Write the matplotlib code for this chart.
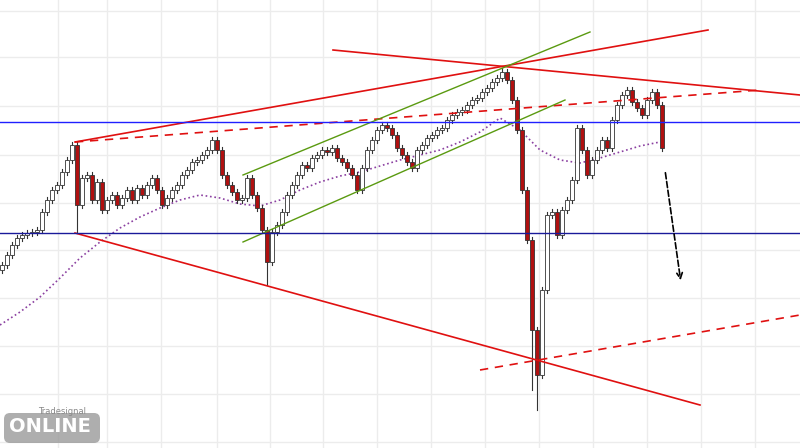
import numpy as np
import matplotlib.pyplot as plt
from matplotlib.patches import FancyBboxPatch

# candle closes (pixel rows, converted below), one candle every 5 px
close_px = [265, 255, 245, 238, 235, 233, 232, 230, 212, 200, 190, 185, 172, 160, 145,
            205, 178, 175, 200, 182, 210, 200, 195, 205, 198, 190, 200, 188, 195, 185,
            178, 190, 205, 198, 190, 185, 175, 170, 162, 160, 155, 150, 140, 150, 175,
            185, 192, 200, 198, 178, 195, 208, 230, 262, 232, 225, 212, 195, 185, 175,
            165, 168, 158, 155, 150, 152, 148, 158, 162, 168, 175, 190, 168, 150, 140,
            130, 125, 128, 135, 148, 155, 162, 168, 150, 145, 138, 135, 130, 128, 120,
            115, 112, 110, 105, 100, 98, 92, 88, 82, 78, 72, 80, 100, 130, 190,
            240, 330, 375, 290, 215, 212, 235, 210, 200, 180, 128, 150, 175, 160, 150,
            140, 148, 120, 105, 95, 90, 102, 108, 115, 100, 92, 105, 148]
open_first_px = 270
extreme_lows = {53: 285, 106: 390, 107: 410, 15: 233}
extreme_highs = {14: 142, 100: 68}

# moving average (dotted purple), sampled every 20 px
ma_x = [0, 20, 40, 60, 80, 100, 120, 140, 160, 180, 200, 220, 240, 260, 280, 300, 320,
        340, 360, 380, 400, 420, 440, 460, 480, 500, 520, 540, 560, 580, 600, 620, 640, 660]
ma_px = [325, 312, 297, 278, 258, 242, 228, 217, 208, 200, 195, 198, 204, 206, 200, 190,
         182, 176, 172, 166, 160, 155, 150, 142, 132, 118, 130, 150, 160, 163, 158, 152, 146, 142]

H = 448
closes = [H - v for v in close_px]
opens = [H - open_first_px] + closes[:-1]

fig = plt.figure(figsize=(8, 4.48), dpi=100)
ax = fig.add_axes([0, 0, 1, 1])
ax.set_xlim(0, 800)
ax.set_ylim(0, H)
for gx in [58, 107, 161, 217, 270, 323, 377, 431, 485, 539, 593, 647, 701, 755]:
    ax.axvline(gx, color='#ececec', lw=1, zorder=0)
for gy in [11, 57, 106, 155, 203, 250, 298, 346, 394, 442]:
    ax.axhline(H - gy, color='#ececec', lw=1, zorder=0)

ax.plot(ma_x, [H - v for v in ma_px], color='#8a3fa0', ls=':', lw=1.2, zorder=2)

for i, (o, c) in enumerate(zip(opens, closes)):
    x = 2 + 5 * i
    hi = max(o, c) + 3
    lo = min(o, c) - 3
    if i in extreme_highs:
        hi = H - extreme_highs[i]
    if i in extreme_lows:
        lo = H - extreme_lows[i]
    ax.plot([x, x], [lo, hi], color='#333333', lw=0.8, zorder=3)
    up = c >= o
    ax.add_patch(plt.Rectangle((x - 1.8, min(o, c)), 3.6, max(abs(c - o), 0.8),
                               facecolor='white' if up else '#b01010',
                               edgecolor='#333333', lw=0.6, zorder=4))

def seg(p, q, **kw):
    ax.plot([p[0], q[0]], [H - p[1], H - q[1]], **kw)

red = '#e01010'
seg((75, 142), (708, 30), color=red, lw=1.2, zorder=5)
seg((75, 142), (760, 90), color=red, lw=1.2, ls=(0, (5, 4)), zorder=5)
seg((333, 50), (800, 95), color=red, lw=1.2, zorder=5)
seg((75, 233), (700, 405), color=red, lw=1.2, zorder=5)
seg((480, 370), (800, 315), color=red, lw=1.2, ls=(0, (5, 4)), zorder=5)
seg((243, 175), (590, 32), color='#5a9a10', lw=1.0, zorder=5)
seg((243, 242), (565, 100), color='#5a9a10', lw=1.0, zorder=5)
ax.axhline(H - 122, color='#2020ff', lw=1.0, zorder=5)
ax.axhline(H - 233, color='#1a1a9a', lw=1.0, zorder=5)
ax.annotate('', xy=(681, H - 283), xytext=(665, H - 170),
            arrowprops=dict(arrowstyle='->', ls='--', color='black', lw=1.2), zorder=6)

# logo
ax.add_patch(FancyBboxPatch((4, 5), 96, 30, boxstyle='round,pad=0,rounding_size=6',
                            facecolor='#9a9a9a', edgecolor='none', alpha=0.8, zorder=7))
ax.text(50, 22, 'ONLINE', color='white', fontsize=14, fontweight='bold',
        ha='center', va='center', zorder=8)
ax.text(62, 37, 'Tradesignal', color='#888888', fontsize=6, ha='center', va='center', zorder=8)

ax.set_xticks([])
ax.set_yticks([])
for s in ax.spines.values():
    s.set_visible(False)
fig.savefig('out.png')
